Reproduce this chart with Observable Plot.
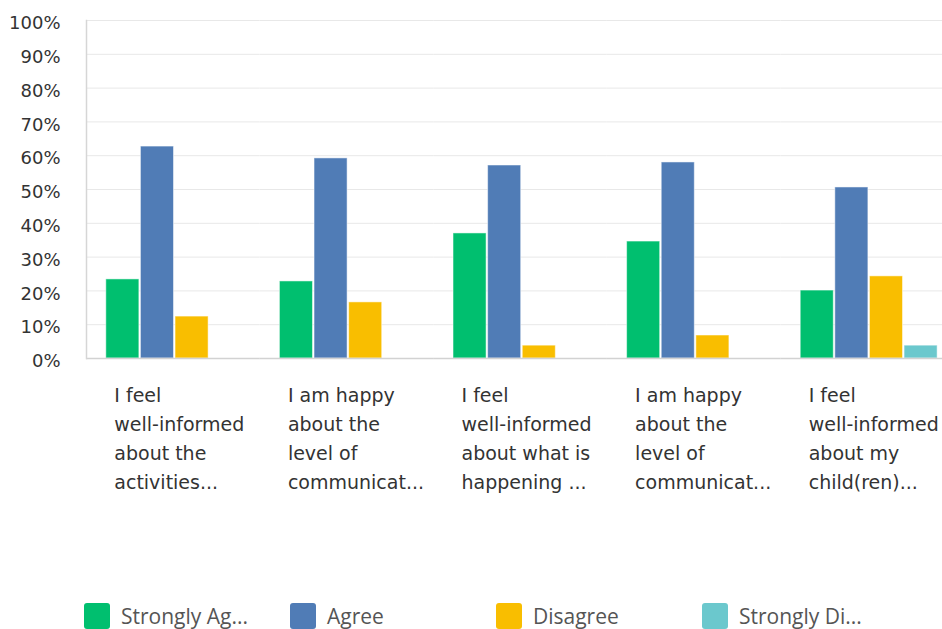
<!DOCTYPE html>
<html><head><meta charset="utf-8">
<script src="https://cdn.jsdelivr.net/npm/d3@7"></script>
<script src="https://cdn.jsdelivr.net/npm/@observablehq/plot@0.6"></script>
<style>
html,body{margin:0;padding:0;background:#fff;overflow:hidden;}
#chart{position:relative;width:942px;height:629px;overflow:hidden;}
#chart svg.main{position:absolute;left:0;top:0;overflow:hidden;max-width:none !important;}
.lg-swatches{position:absolute !important;top:603px;left:84px;margin:0 !important;min-height:0 !important;height:26px;font-family:'Open Sans',sans-serif !important;font-size:21px !important;color:#555 !important;display:flex !important;align-items:center !important;}
.lg-swatch{width:206px !important;margin:0 !important;flex:none;display:inline-flex !important;align-items:center !important;height:26px;}
.lg-swatch svg{margin-right:11px !important;}
.lg-swatch svg rect{rx:3px;ry:3px;}
</style></head><body><div id="chart"></div>
<script>
const questions = [
  "I feel\nwell-informed\nabout the\nactivities...",
  "I am happy\nabout the\nlevel of\ncommunicat...",
  "I feel\nwell-informed\nabout what is\nhappening ...",
  "I am happy\nabout the\nlevel of\ncommunicat... ",
  "I feel\nwell-informed\nabout my\nchild(ren)..."
];
const series = ["Strongly Agree", "Agree", "Disagree", "Strongly Disagree"];
const legendLabels = ["Strongly Ag...", "Agree", "Disagree", "Strongly Di..."];
const strongAgree    = [23.4, 22.8, 37.0, 34.6, 20.1];
const agree          = [62.7, 59.2, 57.1, 58.0, 50.6];
const disagree       = [12.4, 16.6, 3.8, 6.8, 24.3];
const strongDisagree = [0, 0, 0, 0, 3.8];
const yTicks = [0, 10, 20, 30, 40, 50, 60, 70, 80, 90, 100];
const colors = ["#00bf6f", "#507cb6", "#f9be00", "#6bc8cd"];

const values = [strongAgree, agree, disagree, strongDisagree];
const data = questions.flatMap((q, i) => series.map((s, j) => ({q, s, v: values[j][i]})));

const plot = Plot.plot({
  width: 954, height: 500,
  marginLeft: 86, marginRight: 0, marginTop: 20, marginBottom: 142,
  style: {fontFamily: "'DejaVu Sans', sans-serif", background: "#fff", overflow: "hidden", maxWidth: "none"},
  fx: {domain: questions, padding: 0, round: false, label: null},
  x: {domain: series, paddingInner: 0.045, paddingOuter: 0.53, align: 0.54, round: false, axis: null},
  y: {domain: [0, 100], label: null},
  color: {domain: series, range: colors},
  marks: [
    Plot.gridY(yTicks, {stroke: "#e8e8e8", strokeOpacity: 1}),
    Plot.barY(data, {fx: "q", x: "s", y: "v", fill: "s", stroke: "#ffffff", strokeOpacity: 0.5}),
    Plot.ruleY([0], {stroke: "#d2d2d2", strokeWidth: 1.5}),
    Plot.frame({anchor: "left", facetAnchor: "left", stroke: "#d6d6d6", strokeWidth: 1.5}),
    Plot.axisY(yTicks, {tickSize: 0, tickPadding: 26, dy: 3, tickFormat: d => d + "%", fontSize: 18, fill: "#333"}),
    Plot.axisFx({anchor: "bottom", tickSize: 0, tickPadding: 23, textAnchor: "start", dx: -59,
      lineAnchor: "top", lineHeight: 1.526, fontSize: 19, fill: "#333", label: null})
  ]
});
plot.classList.add("main");
document.getElementById("chart").appendChild(plot);

const legend = Plot.legend({
  color: {domain: series, range: colors},
  legend: "swatches", swatchWidth: 26, swatchHeight: 26,
  tickFormat: d => legendLabels[series.indexOf(d)],
  className: "lg"
});
document.getElementById("chart").appendChild(legend);
</script>
</body></html>
